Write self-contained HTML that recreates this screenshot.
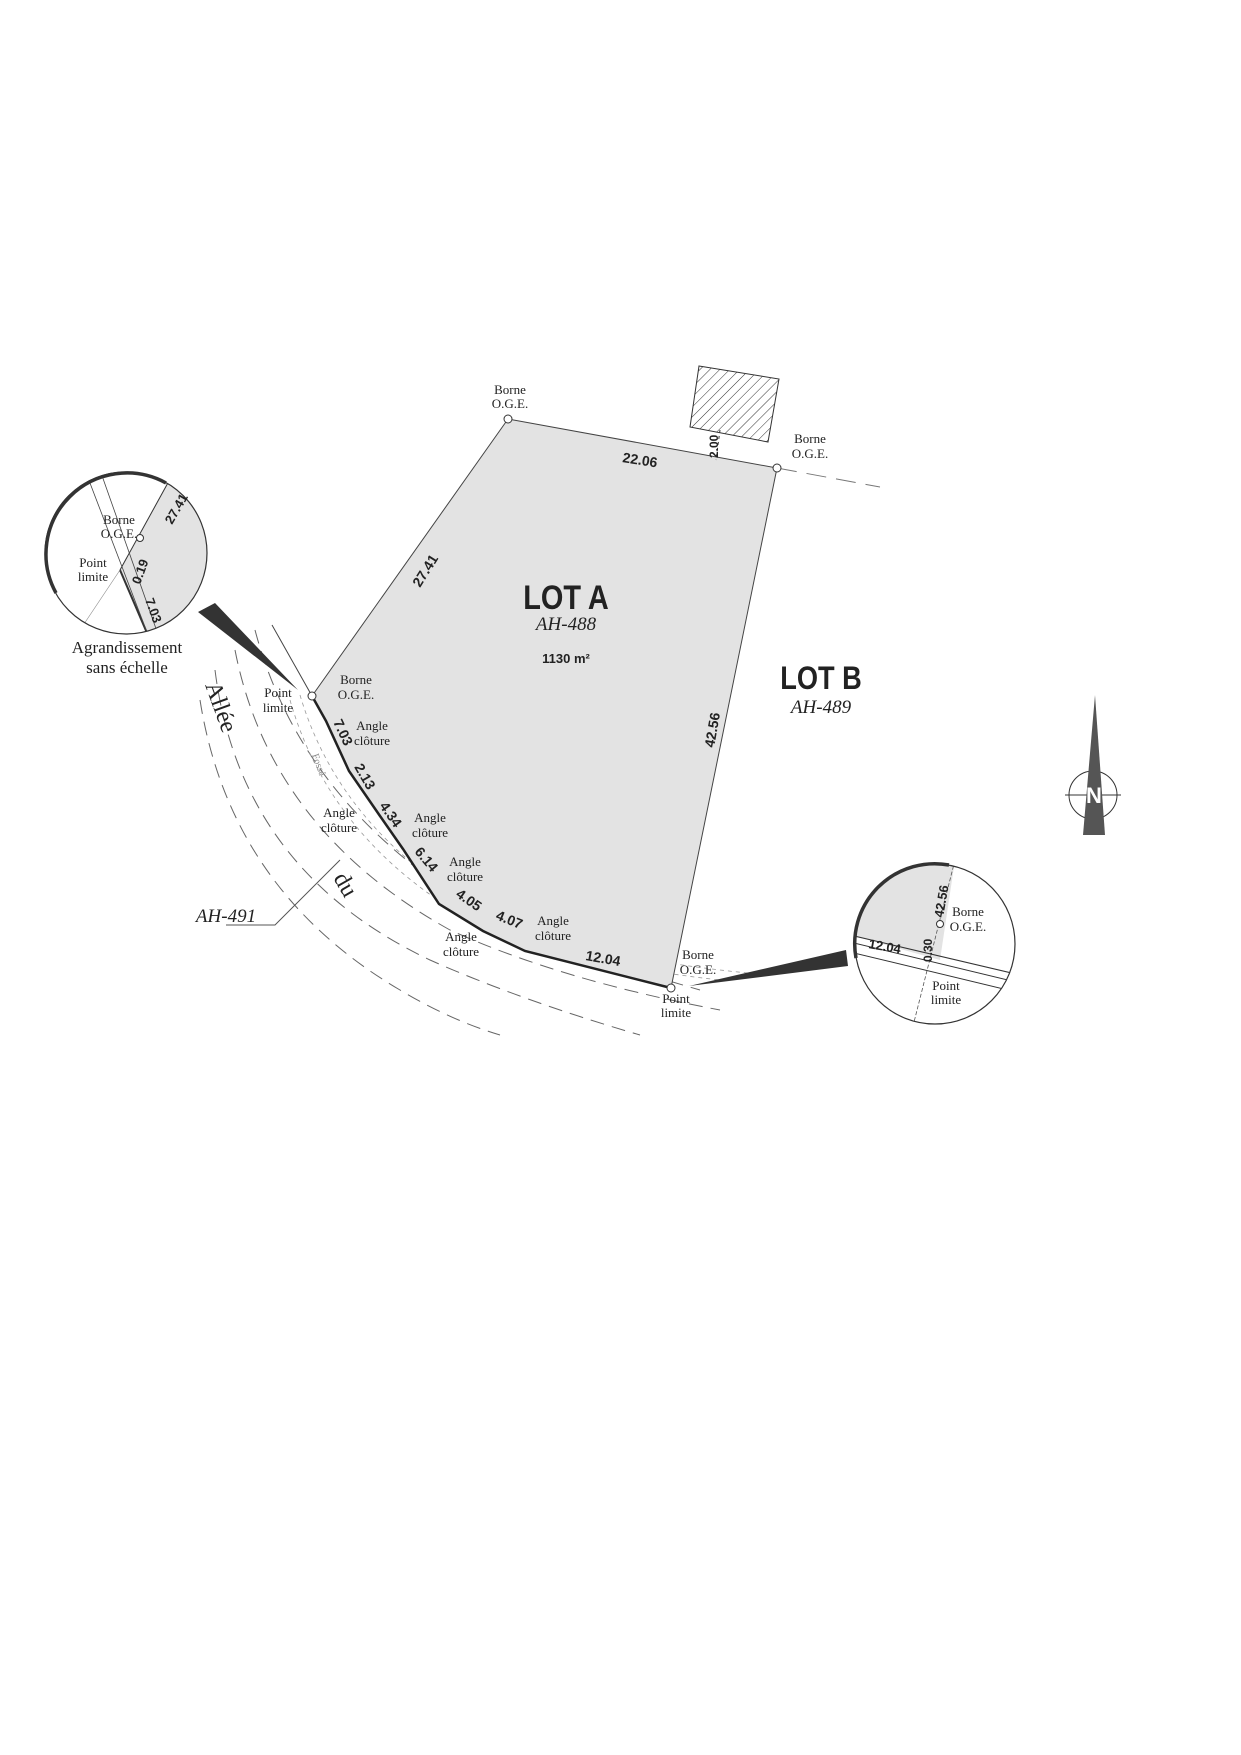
<!DOCTYPE html>
<html><head><meta charset="utf-8"><style>
html,body{margin:0;padding:0;background:#fff}
svg{display:block}
.s{font-family:"Liberation Serif",serif;fill:#222}
.b{font-family:"Liberation Sans",sans-serif;font-weight:bold;fill:#222}
</style></head><body>
<svg width="1241" height="1755" viewBox="0 0 1241 1755" xmlns="http://www.w3.org/2000/svg">
<defs>
<pattern id="h" width="7" height="7" patternUnits="userSpaceOnUse" patternTransform="rotate(45)">
<line x1="0" y1="0" x2="0" y2="7" stroke="#333" stroke-width="1"/></pattern>
<clipPath id="c1"><circle cx="126" cy="553" r="81"/></clipPath>
<clipPath id="c2"><circle cx="935" cy="944" r="80"/></clipPath>
</defs>
<!-- road dashed lines -->
<g fill="none" stroke="#666" stroke-width="1" stroke-dasharray="14,8">
<path d="M255 630 Q300 800 470 905 Q560 950 700 990"/>
<path d="M235 650 Q270 830 450 930 Q560 980 720 1010"/>
<path d="M215 670 Q240 870 430 960 Q520 1000 640 1035"/>
<path d="M200 700 Q230 890 400 990 Q450 1020 500 1035"/>
</g>
<g fill="none" stroke="#999" stroke-width="0.8" stroke-dasharray="4,4">
<path d="M290 700 Q330 840 470 920 Q580 965 720 980"/>
<path d="M300 695 Q340 830 480 910 Q590 960 770 975"/>
</g>
<line x1="272" y1="625" x2="312" y2="696" stroke="#444" stroke-width="1"/>
<line x1="777" y1="468" x2="880" y2="487" stroke="#777" stroke-dasharray="20,10"/>
<polyline points="226,925 275,925 340,860" fill="none" stroke="#555" stroke-width="1"/>
<!-- lot A -->
<polygon points="508,419 777,468 671,988 525,951 483,931 439,904 403,849 380,816 349,771 326,721 312,696" fill="#e3e3e3" stroke="#444" stroke-width="1"/>
<polyline points="312,696 326,721 349,771 380,816 403,849 439,904 483,931 525,951 671,988" fill="none" stroke="#222" stroke-width="2.5"/>
<g fill="#fff" stroke="#333" stroke-width="1">
<circle cx="508" cy="419" r="4"/><circle cx="777" cy="468" r="4"/><circle cx="312" cy="696" r="4"/><circle cx="671" cy="988" r="4"/></g>
<!-- hatched building -->
<polygon points="699,366 779,379 768,442 690,427" fill="url(#h)" stroke="#333"/>
<line x1="720" y1="430" x2="716" y2="460" stroke="#333" stroke-dasharray="3,3"/>
<!-- pointers -->
<polygon points="198,612 215,603 298,690" fill="#333"/>
<polygon points="846,950 848,966 689,986" fill="#333"/>
<!-- left circle -->
<g clip-path="url(#c1)">
<polygon points="175,470 220,470 220,640 150,640 120,570" fill="#e3e3e3"/>
<line x1="175" y1="470" x2="120" y2="570" stroke="#333"/>
<line x1="120" y1="570" x2="150" y2="640" stroke="#333" stroke-width="2"/>
<line x1="85" y1="470" x2="150" y2="640" stroke="#444" stroke-width="0.8"/>
<line x1="100" y1="470" x2="160" y2="640" stroke="#444" stroke-width="0.8"/>
<line x1="120" y1="570" x2="80" y2="630" stroke="#888" stroke-width="0.6"/>
</g>
<circle cx="126" cy="553" r="81" fill="none" stroke="#333" stroke-width="1.2"/>
<path d="M56 593 A81 81 0 0 1 166 483" fill="none" stroke="#333" stroke-width="3.5"/>
<circle cx="140" cy="538" r="3.5" fill="#fff" stroke="#333"/>
<text class="s" font-size="13" x="119" y="524" text-anchor="middle">Borne</text>
<text class="s" font-size="13" x="119" y="538" text-anchor="middle">O.G.E.</text>
<text class="s" font-size="13" x="93" y="567" text-anchor="middle">Point</text>
<text class="s" font-size="13" x="93" y="581" text-anchor="middle">limite</text>
<text class="b" font-size="13" transform="translate(172,525) rotate(-60)">27.41</text>
<text class="b" font-size="13" transform="translate(140,585) rotate(-70)">0.19</text>
<text class="b" font-size="13" transform="translate(145,600) rotate(70)">7.03</text>
<text class="s" font-size="17" x="127" y="653" text-anchor="middle">Agrandissement</text>
<text class="s" font-size="17" x="127" y="673" text-anchor="middle">sans échelle</text>
<!-- right circle -->
<g clip-path="url(#c2)">
<polygon points="850,860 955,860 940,960 850,935" fill="#e3e3e3"/>
<line x1="955" y1="860" x2="912" y2="1030" stroke="#555" stroke-width="0.8" stroke-dasharray="4,2"/>
<line x1="850" y1="935" x2="1020" y2="975" stroke="#333"/>
<line x1="850" y1="942" x2="1020" y2="983" stroke="#333"/>
<line x1="850" y1="952" x2="1020" y2="993" stroke="#333"/>
</g>
<circle cx="935" cy="944" r="80" fill="none" stroke="#333" stroke-width="1.2"/>
<path d="M856 958 A80 80 0 0 1 949 865" fill="none" stroke="#333" stroke-width="3.5"/>
<circle cx="940" cy="924" r="3.5" fill="#fff" stroke="#333"/>
<text class="b" font-size="13" transform="translate(943,918) rotate(-80)">42.56</text>
<text class="s" font-size="13" x="968" y="916" text-anchor="middle">Borne</text>
<text class="s" font-size="13" x="968" y="931" text-anchor="middle">O.G.E.</text>
<text class="b" font-size="13" transform="translate(868,948) rotate(10)">12.04</text>
<text class="b" font-size="12" transform="translate(932,962) rotate(-90)">0.30</text>
<text class="s" font-size="13" x="946" y="990" text-anchor="middle">Point</text>
<text class="s" font-size="13" x="946" y="1004" text-anchor="middle">limite</text>
<!-- north arrow -->
<circle cx="1093" cy="795" r="24" fill="none" stroke="#333"/>
<line x1="1065" y1="795" x2="1121" y2="795" stroke="#333"/>
<polygon points="1095,695 1083,835 1105,835" fill="#555"/>
<text class="b" font-size="22" x="1094" y="803" text-anchor="middle" style="fill:#fff">N</text>
<!-- labels -->
<text class="s" font-size="13" x="510" y="394" text-anchor="middle">Borne</text>
<text class="s" font-size="13" x="510" y="408" text-anchor="middle">O.G.E.</text>
<text class="s" font-size="13" x="810" y="443" text-anchor="middle">Borne</text>
<text class="s" font-size="13" x="810" y="458" text-anchor="middle">O.G.E.</text>
<text class="b" font-size="14" transform="translate(622,462) rotate(9)">22.06</text>
<text class="b" font-size="12" transform="translate(718,458) rotate(-90)">2.00</text>
<text class="b" font-size="14" transform="translate(420,588) rotate(-58)">27.41</text>
<text class="b" font-size="34" x="566" y="609" text-anchor="middle" transform="translate(566,0) scale(0.85,1) translate(-566,0)">LOT A</text>
<text class="s" font-size="19" x="566" y="630" text-anchor="middle" font-style="italic">AH-488</text>
<text class="b" font-size="13" x="566" y="663" text-anchor="middle">1130 m²</text>
<text class="b" font-size="32" x="821" y="689" text-anchor="middle" transform="translate(821,0) scale(0.85,1) translate(-821,0)">LOT B</text>
<text class="s" font-size="19" x="821" y="713" text-anchor="middle" font-style="italic">AH-489</text>
<text class="b" font-size="14" transform="translate(714,748) rotate(-80)">42.56</text>
<text class="s" font-size="13" x="356" y="684" text-anchor="middle">Borne</text>
<text class="s" font-size="13" x="356" y="699" text-anchor="middle">O.G.E.</text>
<text class="s" font-size="13" x="278" y="697" text-anchor="middle">Point</text>
<text class="s" font-size="13" x="278" y="712" text-anchor="middle">limite</text>
<text class="b" font-size="14" transform="translate(333,722) rotate(65)">7.03</text>
<text class="b" font-size="14" transform="translate(354,767) rotate(60)">2.13</text>
<text class="b" font-size="14" transform="translate(379,806) rotate(55)">4.34</text>
<text class="b" font-size="14" transform="translate(414,852) rotate(50)">6.14</text>
<text class="b" font-size="14" transform="translate(455,896) rotate(35)">4.05</text>
<text class="b" font-size="14" transform="translate(495,919) rotate(22)">4.07</text>
<text class="b" font-size="14" transform="translate(585,960) rotate(10)">12.04</text>
<g class="s" font-size="13" text-anchor="middle">
<text x="372" y="730">Angle</text><text x="372" y="745">clôture</text>
<text x="339" y="817">Angle</text><text x="339" y="832">clôture</text>
<text x="430" y="822">Angle</text><text x="430" y="837">clôture</text>
<text x="465" y="866">Angle</text><text x="465" y="881">clôture</text>
<text x="553" y="925">Angle</text><text x="553" y="940">clôture</text>
<text x="461" y="941">Angle</text><text x="461" y="956">clôture</text>
<text x="698" y="959">Borne</text><text x="698" y="974">O.G.E.</text>
<text x="676" y="1003">Point</text><text x="676" y="1017">limite</text>
</g>
<text class="s" font-size="10" style="fill:#888" transform="translate(312,755) rotate(70)">Fossé</text>
<text class="s" font-size="24" transform="translate(205,685) rotate(70)">Allée</text>
<text class="s" font-size="24" transform="translate(333,878) rotate(60)">du</text>
<text class="s" font-size="19" x="226" y="922" text-anchor="middle" font-style="italic">AH-491</text>
</svg>
</body></html>
